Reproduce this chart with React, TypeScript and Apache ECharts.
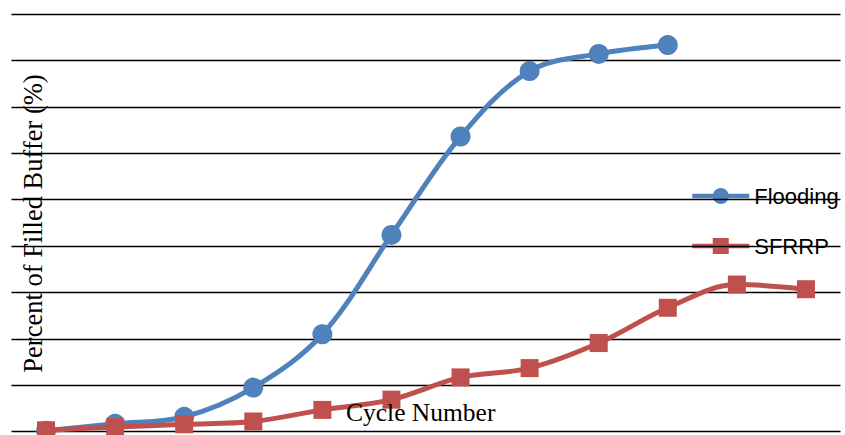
import React, { useEffect, useRef } from "react";
import * as echarts from "echarts";

const categories = ["1", "2", "3", "4", "5", "6", "7", "8", "9", "10", "11", "12"];
const floodingValues = [0.2, 1.7, 3.2, 9.5, 21.0, 42.4, 63.6, 77.7, 81.4, 83.3];
const sfrrpValues = [0.3, 1.0, 1.6, 2.2, 4.7, 6.9, 11.7, 13.7, 19.1, 26.7, 31.7, 30.7];
const yTicks = { min: 0, max: 90, interval: 10 };
const yTitle = "Percent of Filled Buffer (%)";
const xTitle = "Cycle Number";

export default function App() {
  const ref = useRef<HTMLDivElement>(null);
  useEffect(() => {
    if (!ref.current) return;
    const chart = echarts.init(ref.current, null, { renderer: "svg" });
    chart.setOption({
      animation: false,
      backgroundColor: "#ffffff",
      grid: { left: 11.5, right: 4.5, top: 14, bottom: 3.3, containLabel: false },
      xAxis: {
        type: "category",
        data: categories,
        boundaryGap: true,
        axisLine: { show: false },
        axisTick: { show: false },
        axisLabel: { show: false },
        splitLine: { show: false },
      },
      yAxis: {
        type: "value",
        min: yTicks.min,
        max: yTicks.max,
        interval: yTicks.interval,
        z: 2,
        axisLine: { show: false },
        axisTick: { show: false },
        axisLabel: { show: false },
        splitLine: { show: true, lineStyle: { color: "#000000", width: 1.4 } },
      },
      legend: {
        z: 1,
        orient: "vertical",
        left: 690,
        top: 184,
        padding: 0,
        itemWidth: 57,
        itemHeight: 20,
        itemGap: 26,
        lineStyle: { width: 4.5 },
        textStyle: {
          fontFamily: "Liberation Sans",
          fontSize: 22,
          lineHeight: 24,
          color: "#000000",
        },
        data: ["Flooding", "SFRRP"],
      },
      graphic: [
        {
          type: "text",
          x: 33,
          y: 223.5,
          rotation: Math.PI / 2,
          style: {
            text: yTitle,
            fontFamily: "Liberation Serif",
            fontSize: 26.5,
            fill: "#000000",
            textAlign: "center",
            textVerticalAlign: "middle",
          },
          z: 10,
        },
        {
          type: "text",
          x: 346,
          y: 412,
          style: {
            text: xTitle,
            fontFamily: "Liberation Serif",
            fontSize: 25.5,
            fill: "#000000",
            textAlign: "left",
            textVerticalAlign: "middle",
          },
          z: 10,
        },
      ],
      series: [
        {
          name: "Flooding",
          type: "line",
          data: floodingValues,
          z: 3,
          smooth: 0.35,
          symbol: "circle",
          symbolSize: 20,
          lineStyle: { color: "#4F81BD", width: 5 },
          itemStyle: { color: "#4F81BD" },
        },
        {
          name: "SFRRP",
          type: "line",
          data: sfrrpValues,
          z: 4,
          smooth: 0.35,
          symbol: "rect",
          symbolSize: 18,
          lineStyle: { color: "#C0504D", width: 5 },
          itemStyle: { color: "#C0504D" },
        },
      ],
    });
    return () => chart.dispose();
  }, []);
  return (
    <div
      ref={ref}
      style={{ position: "fixed", left: 0, top: 0, width: 845, height: 435 }}
    />
  );
}
